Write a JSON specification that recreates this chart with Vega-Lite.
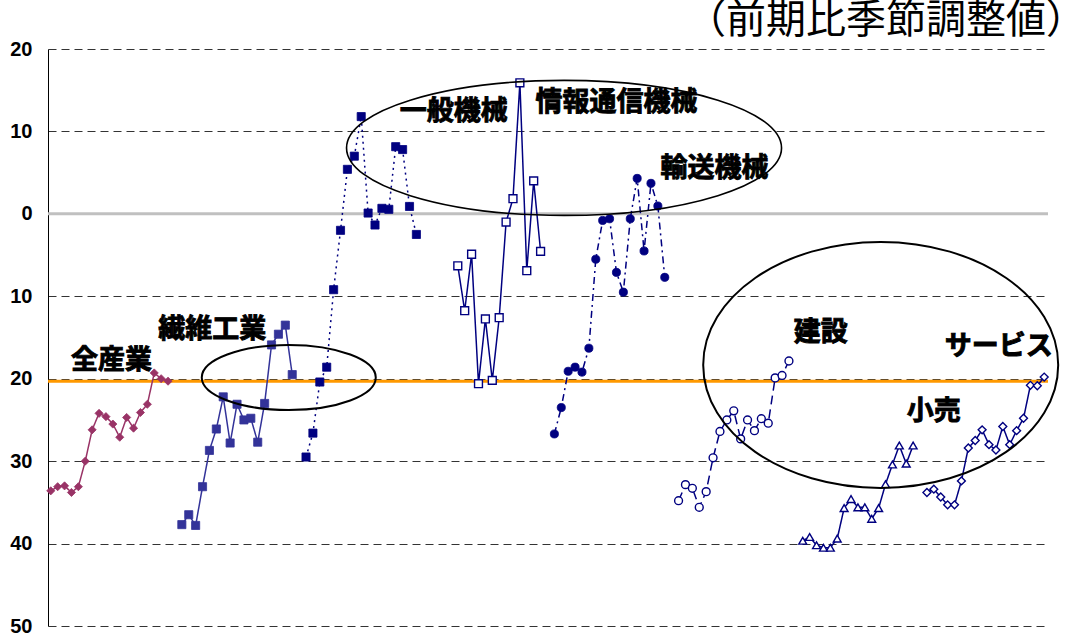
{
  "$schema": "https://vega.github.io/schema/vega-lite/v6.json",
  "width": 1000,
  "height": 577,
  "autosize": "none",
  "padding": {"left": 48, "top": 49, "right": 20, "bottom": 18},
  "background": "white",
  "config": {
    "view": {"stroke": null},
    "font": "Noto Sans CJK JP"
  },
  "title": {
    "text": "（前期比季節調整値）",
    "anchor": "end",
    "frame": "group",
    "font": "Noto Sans CJK JP",
    "fontSize": 40,
    "fontWeight": "normal",
    "color": "black",
    "baseline": "alphabetic",
    "offset": 10,
    "dx": 38,
    "dy": 44
  },
  "datasets": {
    "series": [
      {"s": "全産業", "i": 0, "v": -33.6}, {"s": "全産業", "i": 1, "v": -33.1}, {"s": "全産業", "i": 2, "v": -33.0},
      {"s": "全産業", "i": 3, "v": -33.8}, {"s": "全産業", "i": 4, "v": -33.1}, {"s": "全産業", "i": 5, "v": -30.0},
      {"s": "全産業", "i": 6, "v": -26.2}, {"s": "全産業", "i": 7, "v": -24.2}, {"s": "全産業", "i": 8, "v": -24.6},
      {"s": "全産業", "i": 9, "v": -25.5}, {"s": "全産業", "i": 10, "v": -27.1}, {"s": "全産業", "i": 11, "v": -24.7},
      {"s": "全産業", "i": 12, "v": -26.0}, {"s": "全産業", "i": 13, "v": -24.1}, {"s": "全産業", "i": 14, "v": -23.1},
      {"s": "全産業", "i": 15, "v": -19.3}, {"s": "全産業", "i": 16, "v": -20.0}, {"s": "全産業", "i": 17, "v": -20.3},

      {"s": "繊維工業", "i": 19, "v": -37.7}, {"s": "繊維工業", "i": 20, "v": -36.5}, {"s": "繊維工業", "i": 21, "v": -37.8},
      {"s": "繊維工業", "i": 22, "v": -33.1}, {"s": "繊維工業", "i": 23, "v": -28.7}, {"s": "繊維工業", "i": 24, "v": -26.1},
      {"s": "繊維工業", "i": 25, "v": -22.2}, {"s": "繊維工業", "i": 26, "v": -27.8}, {"s": "繊維工業", "i": 27, "v": -23.1},
      {"s": "繊維工業", "i": 28, "v": -25.0}, {"s": "繊維工業", "i": 29, "v": -24.8}, {"s": "繊維工業", "i": 30, "v": -27.7},
      {"s": "繊維工業", "i": 31, "v": -23.0}, {"s": "繊維工業", "i": 32, "v": -15.9}, {"s": "繊維工業", "i": 33, "v": -14.6},
      {"s": "繊維工業", "i": 34, "v": -13.5}, {"s": "繊維工業", "i": 35, "v": -19.5},

      {"s": "一般機械", "i": 37, "v": -29.5}, {"s": "一般機械", "i": 38, "v": -26.6}, {"s": "一般機械", "i": 39, "v": -20.4},
      {"s": "一般機械", "i": 40, "v": -18.6}, {"s": "一般機械", "i": 41, "v": -9.2}, {"s": "一般機械", "i": 42, "v": -2.0},
      {"s": "一般機械", "i": 43, "v": 5.4}, {"s": "一般機械", "i": 44, "v": 7.0}, {"s": "一般機械", "i": 45, "v": 11.8},
      {"s": "一般機械", "i": 46, "v": 0.1}, {"s": "一般機械", "i": 47, "v": -1.35}, {"s": "一般機械", "i": 48, "v": 0.67},
      {"s": "一般機械", "i": 49, "v": 0.55}, {"s": "一般機械", "i": 50, "v": 8.15}, {"s": "一般機械", "i": 51, "v": 7.8},
      {"s": "一般機械", "i": 52, "v": 0.9}, {"s": "一般機械", "i": 53, "v": -2.5},

      {"s": "情報通信機械", "i": 59, "v": -6.3}, {"s": "情報通信機械", "i": 60, "v": -11.75}, {"s": "情報通信機械", "i": 61, "v": -4.9},
      {"s": "情報通信機械", "i": 62, "v": -20.6}, {"s": "情報通信機械", "i": 63, "v": -12.75}, {"s": "情報通信機械", "i": 64, "v": -20.2},
      {"s": "情報通信機械", "i": 65, "v": -12.6}, {"s": "情報通信機械", "i": 66, "v": -1.0}, {"s": "情報通信機械", "i": 67, "v": 1.84},
      {"s": "情報通信機械", "i": 68, "v": 15.9}, {"s": "情報通信機械", "i": 69, "v": -6.9}, {"s": "情報通信機械", "i": 70, "v": 4.0},
      {"s": "情報通信機械", "i": 71, "v": -4.55},

      {"s": "輸送機械", "i": 73, "v": -26.7}, {"s": "輸送機械", "i": 74, "v": -23.5}, {"s": "輸送機械", "i": 75, "v": -19.1},
      {"s": "輸送機械", "i": 76, "v": -18.6}, {"s": "輸送機械", "i": 77, "v": -19.2}, {"s": "輸送機械", "i": 78, "v": -16.3},
      {"s": "輸送機械", "i": 79, "v": -5.5}, {"s": "輸送機械", "i": 80, "v": -0.8}, {"s": "輸送機械", "i": 81, "v": -0.6},
      {"s": "輸送機械", "i": 82, "v": -7.1}, {"s": "輸送機械", "i": 83, "v": -9.5}, {"s": "輸送機械", "i": 84, "v": -0.6},
      {"s": "輸送機械", "i": 85, "v": 4.3}, {"s": "輸送機械", "i": 86, "v": -4.5}, {"s": "輸送機械", "i": 87, "v": 3.7},
      {"s": "輸送機械", "i": 88, "v": 0.95}, {"s": "輸送機械", "i": 89, "v": -7.7},

      {"s": "建設", "i": 91, "v": -34.8}, {"s": "建設", "i": 92, "v": -32.85}, {"s": "建設", "i": 93, "v": -33.3},
      {"s": "建設", "i": 94, "v": -35.6}, {"s": "建設", "i": 95, "v": -33.7}, {"s": "建設", "i": 96, "v": -29.6},
      {"s": "建設", "i": 97, "v": -26.4}, {"s": "建設", "i": 98, "v": -25.0}, {"s": "建設", "i": 99, "v": -23.9},
      {"s": "建設", "i": 100, "v": -27.3}, {"s": "建設", "i": 101, "v": -25.0}, {"s": "建設", "i": 102, "v": -26.3},
      {"s": "建設", "i": 103, "v": -24.85}, {"s": "建設", "i": 104, "v": -25.4}, {"s": "建設", "i": 105, "v": -19.9},
      {"s": "建設", "i": 106, "v": -19.6}, {"s": "建設", "i": 107, "v": -17.85},

      {"s": "小売", "i": 109, "v": -39.65}, {"s": "小売", "i": 110, "v": -39.2}, {"s": "小売", "i": 111, "v": -40.2},
      {"s": "小売", "i": 112, "v": -40.5}, {"s": "小売", "i": 113, "v": -40.5}, {"s": "小売", "i": 114, "v": -39.4},
      {"s": "小売", "i": 115, "v": -35.7}, {"s": "小売", "i": 116, "v": -34.6}, {"s": "小売", "i": 117, "v": -35.6},
      {"s": "小売", "i": 118, "v": -35.6}, {"s": "小売", "i": 119, "v": -37.0}, {"s": "小売", "i": 120, "v": -35.7},
      {"s": "小売", "i": 121, "v": -32.8}, {"s": "小売", "i": 122, "v": -30.4}, {"s": "小売", "i": 123, "v": -28.1},
      {"s": "小売", "i": 124, "v": -30.3}, {"s": "小売", "i": 125, "v": -28.1},

      {"s": "サービス", "i": 127, "v": -33.8}, {"s": "サービス", "i": 128, "v": -33.4}, {"s": "サービス", "i": 129, "v": -34.35},
      {"s": "サービス", "i": 130, "v": -35.3}, {"s": "サービス", "i": 131, "v": -35.3}, {"s": "サービス", "i": 132, "v": -32.4},
      {"s": "サービス", "i": 133, "v": -28.4}, {"s": "サービス", "i": 134, "v": -27.5}, {"s": "サービス", "i": 135, "v": -26.2},
      {"s": "サービス", "i": 136, "v": -28.0}, {"s": "サービス", "i": 137, "v": -28.65}, {"s": "サービス", "i": 138, "v": -25.8},
      {"s": "サービス", "i": 139, "v": -28.0}, {"s": "サービス", "i": 140, "v": -26.3}, {"s": "サービス", "i": 141, "v": -24.8},
      {"s": "サービス", "i": 142, "v": -20.8}, {"s": "サービス", "i": 143, "v": -20.85}, {"s": "サービス", "i": 144, "v": -19.8}
    ],
    "refs": [
      {"kind": "zero", "v": 0},
      {"kind": "all", "v": -20.3}
    ],
    "notes": [
      {"label": "全産業", "i": 8.8, "v": -17.85},
      {"label": "繊維工業", "i": 23.4, "v": -14.1},
      {"label": "一般機械", "i": 58.4, "v": 12.4},
      {"label": "情報通信機械", "i": 82.0, "v": 13.4},
      {"label": "輸送機械", "i": 96.2, "v": 5.5},
      {"label": "建設", "i": 111.6, "v": -14.45},
      {"label": "小売", "i": 128.0, "v": -24.0},
      {"label": "サービス", "i": 137.4, "v": -16.15}
    ],
    "rings": [
      {"ring": "textile", "i": 34.5, "v": -19.85},
      {"ring": "machinery", "i": 74.4, "v": 8.0},
      {"ring": "nonmanuf", "i": 120.3, "v": -18.33}
    ]
  },
  "layer": [
    {
      "data": {"name": "series"},
      "mark": {"type": "line", "opacity": 0},
      "encoding": {
        "x": {"field": "i", "type": "quantitative", "scale": {"domain": [-0.4, 144.55], "nice": false, "zero": false}, "axis": null},
        "y": {
          "field": "v", "type": "quantitative",
          "scale": {"domain": [-50, 20], "nice": false, "zero": false},
          "axis": {
            "title": null,
            "values": [-50, -40, -30, -20, -10, 0, 10, 20],
            "labelExpr": "'' + abs(datum.value)",
            "grid": true,
            "gridDash": [8, 5],
            "gridColor": "#333333",
            "gridWidth": 1,
            "domain": true,
            "domainColor": "black",
            "domainWidth": 1,
            "ticks": false,
            "labelPadding": 16,
            "labelFont": "Liberation Sans",
            "labelFontWeight": "bold",
            "labelFontSize": 20,
            "labelColor": "black"
          }
        },
        "detail": {"field": "s", "type": "nominal"}
      }
    },
    {
      "data": {"name": "refs"},
      "transform": [{"filter": "datum.kind === 'zero'"}],
      "mark": {"type": "rule", "color": "#c0c0c0", "strokeWidth": 3},
      "encoding": {
        "y": {"field": "v", "type": "quantitative"}
      }
    },
    {
      "data": {"name": "refs"},
      "transform": [{"filter": "datum.kind === 'all'"}],
      "mark": {"type": "rule", "color": "#ff9900", "strokeWidth": 3},
      "encoding": {
        "y": {"field": "v", "type": "quantitative"}
      }
    },
    {
      "data": {"name": "series"},
      "mark": {"type": "line", "strokeWidth": 1.5},
      "encoding": {
        "x": {"field": "i", "type": "quantitative"},
        "y": {"field": "v", "type": "quantitative"},
        "color": {
          "field": "s", "type": "nominal", "legend": null,
          "scale": {
            "domain": ["全産業", "繊維工業", "一般機械", "情報通信機械", "輸送機械", "建設", "小売", "サービス"],
            "range": ["#993366", "#333399", "#000080", "#000080", "#000080", "#000080", "#000080", "#000080"]
          }
        },
        "strokeDash": {
          "field": "s", "type": "nominal", "legend": null,
          "scale": {
            "domain": ["全産業", "繊維工業", "一般機械", "情報通信機械", "輸送機械", "建設", "小売", "サービス"],
            "range": [[1, 0], [1, 0], [2, 4], [1, 0], [7, 4, 2, 4], [9, 5], [1, 0], [1, 0]]
          }
        }
      }
    },
    {
      "data": {"name": "series"},
      "transform": [{"filter": "indexof(['全産業','繊維工業','一般機械','輸送機械'], datum.s) >= 0"}],
      "mark": {"type": "point", "filled": true, "opacity": 1, "size": 66, "strokeWidth": 0.8},
      "encoding": {
        "x": {"field": "i", "type": "quantitative"},
        "y": {"field": "v", "type": "quantitative"},
        "shape": {
          "field": "s", "type": "nominal", "legend": null,
          "scale": {
            "domain": ["全産業", "繊維工業", "一般機械", "情報通信機械", "輸送機械", "建設", "小売", "サービス"],
            "range": ["diamond", "square", "square", "square", "circle", "circle", "triangle-up", "diamond"]
          }
        },
        "fill": {
          "field": "s", "type": "nominal", "legend": null,
          "scale": {
            "domain": ["全産業", "繊維工業", "一般機械", "輸送機械"],
            "range": ["#993366", "#333399", "#000080", "#000080"]
          }
        },
        "stroke": {
          "field": "s", "type": "nominal", "legend": null,
          "scale": {
            "domain": ["全産業", "繊維工業", "一般機械", "輸送機械"],
            "range": ["#993366", "#333399", "#000080", "#000080"]
          }
        }
      }
    },
    {
      "data": {"name": "series"},
      "transform": [{"filter": "indexof(['情報通信機械','建設','小売','サービス'], datum.s) >= 0"}],
      "mark": {"type": "point", "filled": false, "fill": "white", "opacity": 1, "color": "#000080", "size": 62, "strokeWidth": 1.4},
      "encoding": {
        "x": {"field": "i", "type": "quantitative"},
        "y": {"field": "v", "type": "quantitative"},
        "shape": {
          "field": "s", "type": "nominal", "legend": null,
          "scale": {
            "domain": ["全産業", "繊維工業", "一般機械", "情報通信機械", "輸送機械", "建設", "小売", "サービス"],
            "range": ["diamond", "square", "square", "square", "circle", "circle", "triangle-up", "diamond"]
          }
        }
      }
    },
    {
      "data": {"name": "rings"},
      "transform": [{"filter": "datum.ring === 'textile'"}],
      "mark": {
        "type": "point", "filled": false, "opacity": 1, "color": "black", "strokeWidth": 2, "size": 30276,
        "shape": "M-1,0C-1,-0.2063 -0.5523,-0.3736 0,-0.3736C0.5523,-0.3736 1,-0.2063 1,0C1,0.2063 0.5523,0.3736 0,0.3736C-0.5523,0.3736 -1,0.2063 -1,0Z"
      },
      "encoding": {
        "x": {"field": "i", "type": "quantitative"},
        "y": {"field": "v", "type": "quantitative"}
      }
    },
    {
      "data": {"name": "rings"},
      "transform": [{"filter": "datum.ring === 'machinery'"}],
      "mark": {
        "type": "point", "filled": false, "opacity": 1, "color": "black", "strokeWidth": 1.6, "size": 189225,
        "shape": "M-1,0C-1,-0.1714 -0.5523,-0.3103 0,-0.3103C0.5523,-0.3103 1,-0.1714 1,0C1,0.1714 0.5523,0.3103 0,0.3103C-0.5523,0.3103 -1,0.1714 -1,0Z"
      },
      "encoding": {
        "x": {"field": "i", "type": "quantitative"},
        "y": {"field": "v", "type": "quantitative"}
      }
    },
    {
      "data": {"name": "rings"},
      "transform": [{"filter": "datum.ring === 'nonmanuf'"}],
      "mark": {
        "type": "point", "filled": false, "opacity": 1, "color": "black", "strokeWidth": 2, "size": 126025,
        "shape": "M-1,0C-1,-0.3827 -0.5523,-0.693 0,-0.693C0.5523,-0.693 1,-0.3827 1,0C1,0.3827 0.5523,0.693 0,0.693C-0.5523,0.693 -1,0.3827 -1,0Z"
      },
      "encoding": {
        "x": {"field": "i", "type": "quantitative"},
        "y": {"field": "v", "type": "quantitative"}
      }
    },
    {
      "data": {"name": "notes"},
      "mark": {
        "type": "text", "font": "Noto Sans CJK JP", "fontWeight": "bold", "fontSize": 27,
        "color": "black", "stroke": "black", "strokeWidth": 0.9, "align": "center", "baseline": "middle"
      },
      "encoding": {
        "x": {"field": "i", "type": "quantitative"},
        "y": {"field": "v", "type": "quantitative"},
        "text": {"field": "label", "type": "nominal"}
      }
    }
  ]
}
